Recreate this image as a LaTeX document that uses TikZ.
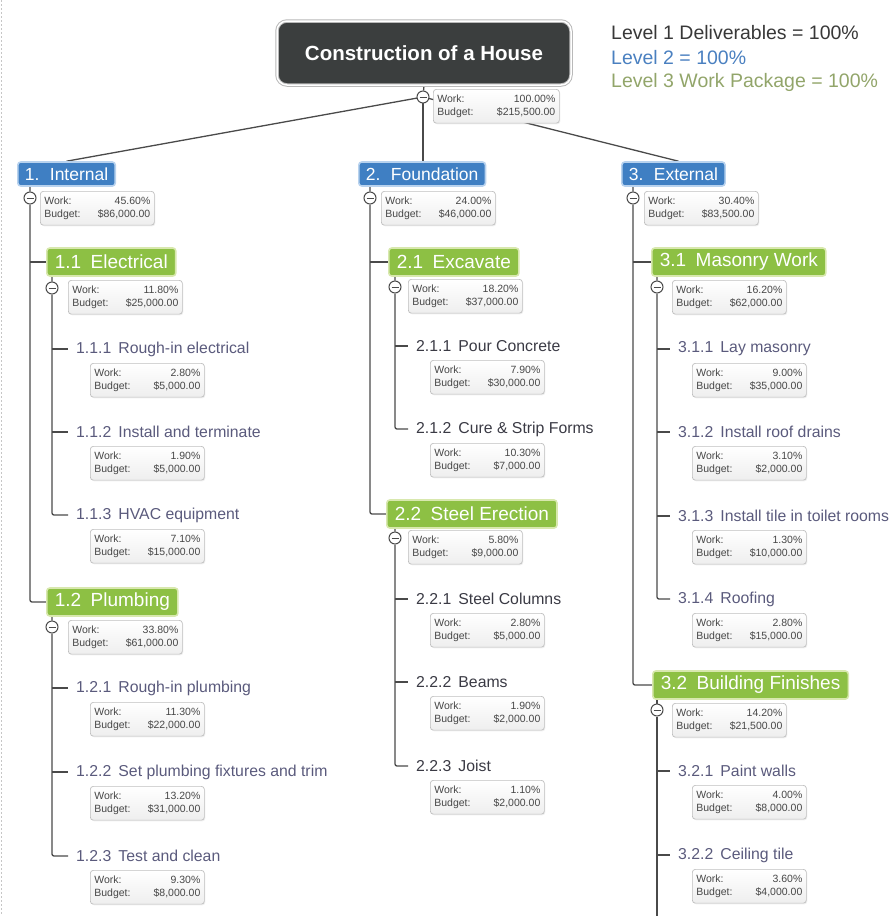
\documentclass[tikz,border=0pt]{standalone}
\usepackage{fontspec}
\setmainfont{Liberation Sans}
\usetikzlibrary{positioning, backgrounds, shadows}

\definecolor{rootgray}{HTML}{3B3E3E}
\definecolor{lvlblue}{HTML}{3F7FC3}
\definecolor{bluerim}{HTML}{B8D2EE}
\definecolor{lvlgreen}{HTML}{8DC044}
\definecolor{greenrim}{HTML}{D8E8AE}
\definecolor{leafpurple}{HTML}{5A5A7C}
\definecolor{leafdark}{HTML}{3A3A44}
\definecolor{legendblue}{HTML}{4A80C0}
\definecolor{legendgreen}{HTML}{92A56A}
\definecolor{linkgray}{HTML}{4A4A4A}

% work / budget figures of one element
\newcommand{\wb}[3][106pt]{\makebox[#1]{Work:\hfill#2}\\\makebox[#1]{Budget:\hfill#3}}

\begin{document}
\begin{tikzpicture}[x=1pt, y=-1pt, node distance=14pt and 22pt,
	house/.style={rectangle, rounded corners=10pt, fill=rootgray, draw=gray!55, line width=1pt, double=white, double distance=1.5pt, text=white, font=\fontsize{20.5}{24}\selectfont\bfseries, minimum width=294pt, minimum height=64pt},
	legend/.style={anchor=west, inner sep=2pt, font=\fontsize{19.5}{24}\selectfont, text=black!78},
	levelone/.style={rectangle, rounded corners=3pt, anchor=west, fill=lvlblue, draw=bluerim, line width=1.6pt, text=white, font=\fontsize{17.5}{20}\selectfont, minimum height=24pt, inner xsep=7pt},
	leveltwo/.style={rectangle, rounded corners=3pt, anchor=west, fill=lvlgreen, draw=greenrim, line width=1.6pt, text=white, font=\fontsize{19}{22}\selectfont, minimum height=28pt, inner xsep=8pt},
	leaf/.style={anchor=west, inner xsep=8pt, font=\fontsize{15.8}{18}\selectfont, text=leafpurple},
	leafdk/.style={leaf, text=leafdark},
	workbox/.style={rectangle, rounded corners=3pt, anchor=north west, draw=gray!50, line width=0.7pt, top color=white, bottom color=gray!13, align=left, font=\fontsize{10.5}{13}\selectfont, text=black!72, inner xsep=4pt, inner ysep=5.5pt, drop shadow={opacity=0.12, shadow xshift=1pt, shadow yshift=-1.2pt}},
	toggle/.style={circle, draw=linkgray, line width=1pt, fill=white, minimum size=12pt, inner sep=0pt, path picture={\draw[linkgray, line width=1pt] ([xshift=-3.5pt]path picture bounding box.center) -- ([xshift=3.5pt]path picture bounding box.center);}},
	link/.style={draw=linkgray, line width=1.3pt, rounded corners=2pt}]
	\useasboundingbox (0,0) rectangle (896,916);
	\draw[gray!45, dash pattern=on 2pt off 2pt, line width=0.8pt] (1.5,0) -- (1.5,916);

	% root and legend
	\node[house] (house) at (424,53) {Construction of a House};
	\node[legend] (legone) at (609,33) {Level 1 Deliverables = 100\%};
	\node[legend, text=legendblue] (legtwo) at (609,58) {Level 2 = 100\%};
	\node[legend, text=legendgreen] (legthree) at (609,82) {Level 3 Work Package = 100\%};
	\node[toggle] (t0) at (423,97) {};
	\node[workbox] (w0) at (433,89) {\wb[118pt]{100.00\%}{\$215,500.00}};

	% level 1
	\node[levelone] (internal) at (17,174) {1.\hspace{0.6em}Internal};
	\node[levelone] (foundation) at (358,174) {2.\hspace{0.6em}Foundation};
	\node[levelone] (external) at (621,174) {3.\hspace{0.6em}External};
	\node[toggle] (t1) at (30,198) {};
	\node[workbox] (w1) at (40,191) {\wb{45.60\%}{\$86,000.00}};
	\node[toggle] (t2) at (370,198) {};
	\node[workbox] (w2) at (381,191) {\wb{24.00\%}{\$46,000.00}};
	\node[toggle] (t3) at (633,198) {};
	\node[workbox] (w3) at (644,191) {\wb{30.40\%}{\$83,500.00}};

	% 1. Internal
	\node[leveltwo] (electrical) at (46,262) {1.1\hspace{0.5em}Electrical};
	\node[toggle] (t11) at (52,288) {};
	\node[workbox] (w11) at (68,280) {\wb{11.80\%}{\$25,000.00}};
	\node[leaf] (e111) at (68,349) {1.1.1\hspace{0.45em}Rough-in electrical};
	\node[workbox, below right=of e111.west] (w111) {\wb{2.80\%}{\$5,000.00}};
	\node[leaf] (e112) at (68,432) {1.1.2\hspace{0.45em}Install and terminate};
	\node[workbox, below right=of e112.west] (w112) {\wb{1.90\%}{\$5,000.00}};
	\node[leaf] (e113) at (68,515) {1.1.3\hspace{0.45em}HVAC equipment};
	\node[workbox, below right=of e113.west] (w113) {\wb{7.10\%}{\$15,000.00}};

	\node[leveltwo] (plumbing) at (46,602) {1.2\hspace{0.5em}Plumbing};
	\node[toggle] (t12) at (52,627) {};
	\node[workbox] (w12) at (68,620) {\wb{33.80\%}{\$61,000.00}};
	\node[leaf] (p121) at (68,688) {1.2.1\hspace{0.45em}Rough-in plumbing};
	\node[workbox, below right=of p121.west] (w121) {\wb{11.30\%}{\$22,000.00}};
	\node[leaf] (p122) at (68,772) {1.2.2\hspace{0.45em}Set plumbing fixtures and trim};
	\node[workbox, below right=of p122.west] (w122) {\wb{13.20\%}{\$31,000.00}};
	\node[leaf] (p123) at (68,856) {1.2.3\hspace{0.45em}Test and clean};
	\node[workbox, below right=of p123.west] (w123) {\wb{9.30\%}{\$8,000.00}};

	% 2. Foundation
	\node[leveltwo] (excavate) at (388,262) {2.1\hspace{0.5em}Excavate};
	\node[toggle] (t21) at (395,287) {};
	\node[workbox] (w21) at (408,279) {\wb{18.20\%}{\$37,000.00}};
	\node[leafdk] (c211) at (408,346) {2.1.1\hspace{0.45em}Pour Concrete};
	\node[workbox, below right=of c211.west] (w211) {\wb{7.90\%}{\$30,000.00}};
	\node[leafdk] (c212) at (408,429) {2.1.2\hspace{0.45em}Cure \& Strip Forms};
	\node[workbox, below right=of c212.west] (w212) {\wb{10.30\%}{\$7,000.00}};

	\node[leveltwo] (steel) at (386,514) {2.2\hspace{0.5em}Steel Erection};
	\node[toggle] (t22) at (395,538) {};
	\node[workbox] (w22) at (408,530) {\wb{5.80\%}{\$9,000.00}};
	\node[leafdk] (s221) at (408,599) {2.2.1\hspace{0.45em}Steel Columns};
	\node[workbox, below right=of s221.west] (w221) {\wb{2.80\%}{\$5,000.00}};
	\node[leafdk] (s222) at (408,682) {2.2.2\hspace{0.45em}Beams};
	\node[workbox, below right=of s222.west] (w222) {\wb{1.90\%}{\$2,000.00}};
	\node[leafdk] (s223) at (408,766) {2.2.3\hspace{0.45em}Joist};
	\node[workbox, below right=of s223.west] (w223) {\wb{1.10\%}{\$2,000.00}};

	% 3. External
	\node[leveltwo] (masonry) at (651,262) {3.1\hspace{0.5em}Masonry Work};
	\node[toggle] (t31) at (657,287) {};
	\node[workbox] (w31) at (672,280) {\wb{16.20\%}{\$62,000.00}};
	\node[leaf] (m311) at (670,349) {3.1.1\hspace{0.45em}Lay masonry};
	\node[workbox, below right=of m311.west] (w311) {\wb{9.00\%}{\$35,000.00}};
	\node[leaf] (m312) at (670,432) {3.1.2\hspace{0.45em}Install roof drains};
	\node[workbox, below right=of m312.west] (w312) {\wb{3.10\%}{\$2,000.00}};
	\node[leaf] (m313) at (670,516) {3.1.3\hspace{0.45em}Install tile in toilet rooms};
	\node[workbox, below right=of m313.west] (w313) {\wb{1.30\%}{\$10,000.00}};
	\node[leaf] (m314) at (670,599) {3.1.4\hspace{0.45em}Roofing};
	\node[workbox, below right=of m314.west] (w314) {\wb{2.80\%}{\$15,000.00}};

	\node[leveltwo] (finishes) at (652,685) {3.2\hspace{0.5em}Building Finishes};
	\node[toggle] (t32) at (657,710) {};
	\node[workbox] (w32) at (672,703) {\wb{14.20\%}{\$21,500.00}};
	\node[leaf] (f321) at (670,771) {3.2.1\hspace{0.45em}Paint walls};
	\node[workbox, below right=of f321.west] (w321) {\wb{4.00\%}{\$8,000.00}};
	\node[leaf] (f322) at (670,855) {3.2.2\hspace{0.45em}Ceiling tile};
	\node[workbox, below right=of f322.west] (w322) {\wb{3.60\%}{\$4,000.00}};
	\coordinate (tail) at (657,918);

	% connectors
	\begin{scope}[on background layer]
		\draw[link] (house.south) -- (t0);
		\draw[link] (t0.center) -- (internal.north);
		\draw[link] (t0.center) -- (t0 |- foundation.north);
		\draw[link] (t0.center) -- ([xshift=5pt]external.north);
		\draw[link] (t1 |- internal.south) -- (t1) |- (plumbing.west);
		\draw[link] (t1 |- electrical.west) -- (electrical.west);
		\draw[link] (t2 |- foundation.south) -- (t2) |- (steel.west);
		\draw[link] (t2 |- excavate.west) -- (excavate.west);
		\draw[link] (t3 |- external.south) -- (t3) |- (finishes.west);
		\draw[link] (t3 |- masonry.west) -- (masonry.west);
		\draw[link] (t11 |- electrical.south) -- (t11) |- (e113.west);
		\draw[link] (t12 |- plumbing.south) -- (t12) |- (p123.west);
		\draw[link] (t21 |- excavate.south) -- (t21) |- (c212.west);
		\draw[link] (t22 |- steel.south) -- (t22) |- (s223.west);
		\draw[link] (t31 |- masonry.south) -- (t31) |- (m314.west);
		\draw[link] (t32 |- finishes.south) -- (t32) -- (tail);
		\foreach \n in {e111, e112} \draw[link] (t11 |- \n.west) -- (\n.west);
		\foreach \n in {p121, p122} \draw[link] (t12 |- \n.west) -- (\n.west);
		\draw[link] (t21 |- c211.west) -- (c211.west);
		\foreach \n in {s221, s222} \draw[link] (t22 |- \n.west) -- (\n.west);
		\foreach \n in {m311, m312, m313} \draw[link] (t31 |- \n.west) -- (\n.west);
		\foreach \n in {f321, f322} \draw[link] (t32 |- \n.west) -- (\n.west);
	\end{scope}
\end{tikzpicture}
\end{document}
